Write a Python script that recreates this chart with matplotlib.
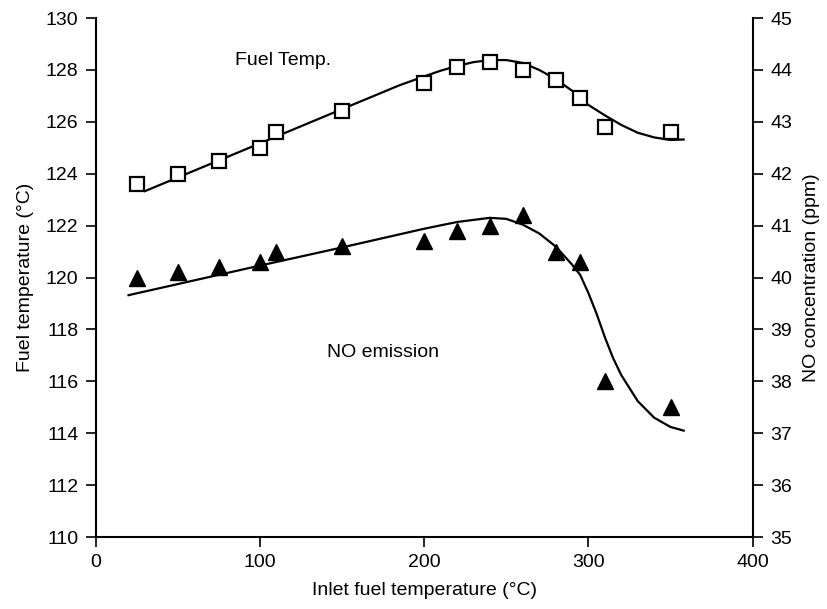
import matplotlib
matplotlib.use("Agg")
import matplotlib.pyplot as plt

plt.rcParams['font.family'] = ['Liberation Sans', 'DejaVu Sans']

# Measured data
x_pts = [25, 50, 75, 100, 110, 150, 200, 220, 240, 260, 280, 295, 310, 350]
fuel_temp = [123.6, 124.0, 124.5, 125.0, 125.6, 126.4, 127.5, 128.1, 128.3, 128.0, 127.6, 126.9, 125.8, 125.6]
no_conc = [40.0, 40.1, 40.2, 40.3, 40.5, 40.6, 40.7, 40.9, 41.0, 41.2, 40.5, 40.3, 38.0, 37.5]

# Fitted trend curves
fuel_fit_x = [30, 100, 150, 185, 200, 210, 220, 230, 240, 250, 260, 270, 280, 290, 300, 310, 320, 330, 340, 350, 358]
fuel_fit_y = [123.33, 125.17, 126.49, 127.41, 127.75, 127.97, 128.15, 128.3, 128.38, 128.38, 128.27, 128.0, 127.65, 127.2,
              126.65, 126.25, 125.88, 125.58, 125.4, 125.3, 125.32]
no_fit_x = [20, 100, 150, 200, 220, 240, 250, 260, 270, 280, 290, 295, 300, 305, 310, 315, 320, 330, 340, 350, 358]
no_fit_y = [39.66, 40.23, 40.58, 40.94, 41.07, 41.15, 41.13, 41.02, 40.85, 40.6, 40.25, 40.05, 39.7, 39.3, 38.85,
            38.45, 38.12, 37.62, 37.3, 37.12, 37.05]

x_ticks = [0, 100, 200, 300, 400]
left_ticks = [110, 112, 114, 116, 118, 120, 122, 124, 126, 128, 130]
right_ticks = [35, 36, 37, 38, 39, 40, 41, 42, 43, 44, 45]

fig = plt.figure(figsize=(8.28, 6.09), dpi=100)
ax = fig.add_axes([0.1156, 0.1182, 0.7934, 0.8522])
ax2 = ax.twinx()

fs = 14

ax.plot(fuel_fit_x, fuel_fit_y, color='black', lw=1.6, zorder=2)
ax.plot(x_pts, fuel_temp, linestyle='none', marker='s', markersize=10.5,
        markerfacecolor='white', markeredgecolor='black', markeredgewidth=1.6, zorder=3)

ax2.plot(no_fit_x, no_fit_y, color='black', lw=1.6, zorder=2)
ax2.plot(x_pts, no_conc, linestyle='none', marker='^', markersize=11.5,
         color='black', zorder=3)

ax.set_xlim(0, 400)
ax.set_ylim(110, 130)
ax2.set_ylim(35, 45)
ax.set_xticks(x_ticks)
ax.set_yticks(left_ticks)
ax2.set_yticks(right_ticks)

for a in (ax, ax2):
    a.spines['top'].set_visible(False)
    for s in a.spines.values():
        s.set_linewidth(1.5)
    a.tick_params(direction='out', length=7, width=1.2, labelsize=fs, pad=5.5)
ax.spines['right'].set_visible(False)
ax2.spines['left'].set_visible(False)
ax2.spines['bottom'].set_visible(False)

ax.set_xlabel('Inlet fuel temperature (\u00b0C)', fontsize=fs, labelpad=8)
ax.set_ylabel('Fuel temperature (\u00b0C)', fontsize=fs, labelpad=8)
ax2.set_ylabel('NO concentration (ppm)', fontsize=fs, labelpad=8)

ax.text(85, 128.2, 'Fuel Temp.', fontsize=fs, ha='left', va='baseline')
ax.text(141, 116.95, 'NO emission', fontsize=fs, ha='left', va='baseline')

fig.savefig('out.png', dpi=100)
